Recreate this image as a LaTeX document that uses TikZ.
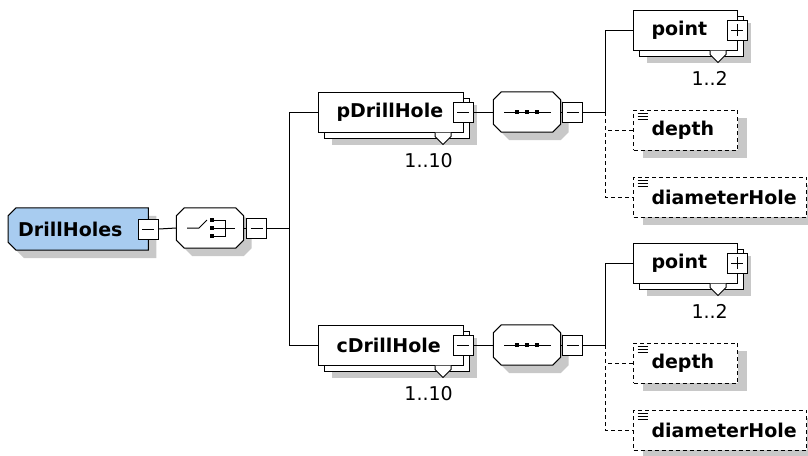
\documentclass[tikz,border=0pt]{standalone}
\usepackage{fontspec}
\setmainfont{DejaVu Sans}
\usetikzlibrary{shadows,backgrounds}
\definecolor{rootblue}{RGB}{168,204,240}
\definecolor{shadegray}{RGB}{200,200,200}
\tikzset{
  % Ulanish chiziqlari
  link/.style      = {line width=1pt, draw=black},
  optional/.style  = {dash pattern=on 4pt off 3pt},
  % Soyalar
  single/.style    = {general shadow={fill=shadegray, shadow xshift=9pt, shadow yshift=-8pt}},
  multi/.style     = {general shadow={fill=shadegray, shadow xshift=13pt, shadow yshift=-13pt},
                      copy shadow={draw, fill=white, line width=1pt, shadow xshift=6pt, shadow yshift=-6pt}},
  shade/.style     = {fill=shadegray, transform canvas={xshift=8pt, yshift=-8pt}},
  % Element qutilari
  elem/.style      = {draw, fill=white, line width=1pt, minimum height=40pt, inner xsep=18pt,
                      text width=#1, align=left, anchor=west,
                      font=\bfseries\fontsize{19}{20}\selectfont},
  rootbox/.style   = {minimum height=42pt, inner xsep=10pt, text width=120pt, align=left,
                      anchor=west, font=\bfseries\fontsize{19}{20}\selectfont},
  compositor/.style= {minimum width=67pt, minimum height=40pt, inner sep=0pt},
  % Kesilgan burchakli konturlar
  octa/.style      = {insert path={([xshift=8pt]#1.north west) -- ([xshift=-8pt]#1.north east)
                      -- ([yshift=-8pt]#1.north east) -- ([yshift=8pt]#1.south east)
                      -- ([xshift=-8pt]#1.south east) -- ([xshift=8pt]#1.south west)
                      -- ([yshift=8pt]#1.south west) -- ([yshift=-8pt]#1.north west) -- cycle}},
  halfocta/.style  = {insert path={([xshift=8pt]#1.north west) -- (#1.north east)
                      -- (#1.south east) -- ([xshift=8pt]#1.south west)
                      -- ([yshift=8pt]#1.south west) -- ([yshift=-8pt]#1.north west) -- cycle}},
  % Yig'ish / ochish belgilari
  sign/.style      = {draw, fill=white, line width=1pt, minimum size=20pt, inner sep=0pt},
  collapse/.style  = {sign, path picture={
                      \draw[line width=1pt] ([xshift=4pt]path picture bounding box.west)
                        -- ([xshift=-4pt]path picture bounding box.east);}},
  expand/.style    = {sign, path picture={
                      \draw[line width=1pt] ([xshift=4pt]path picture bounding box.west)
                        -- ([xshift=-4pt]path picture bounding box.east);
                      \draw[line width=1pt] ([yshift=4pt]path picture bounding box.south)
                        -- ([yshift=-4pt]path picture bounding box.north);}},
  % Ixtiyoriy element belgisi
  listicon/.style  = {path picture={
                      \foreach \dy in {3,6,9}
                        \draw[solid, line width=0.8pt] ([shift={(4,\dy)}]path picture bounding box.north west)
                          -- ++(10,0);}},
  notch/.style     = {draw, fill=white, line width=1pt},
  card/.style      = {font=\fontsize{19}{20}\selectfont, inner sep=0pt},
}
\begin{document}
\begin{tikzpicture}[x=1pt, y=-1pt]
  \useasboundingbox (0,0) rectangle (808,455);
  % Ildiz element
  \node[rootbox] (root) at (8,229) {DrillHoles};
  \node[collapse] (rootm) at (root.east) {};
  \node[compositor] (choice) at (210,228) {};
  \node[collapse] (choicem) at ([shift={(13,0)}]choice.east) {};
  \begin{scope}[on background layer]
    \fill[shade, halfocta=root];
    \filldraw[fill=rootblue, line width=1pt, halfocta=root];
    \fill[shade, octa=choice];
    \filldraw[fill=white, line width=1pt, octa=choice];
  \end{scope}
  \draw[link] (rootm.east) -- (choice.west);
  \draw[link] (choice.east) -- (choicem.west);
  % Tanlov belgisi
  \draw[link] ([shift={(-23,0)}]choice.center) -- ++(12,0) -- ++(8,-8);
  \foreach \sy in {-8,0,8}
    \fill ([shift={(2,\sy)}]choice.center) +(-2,-2) rectangle +(2,2);
  \draw[link] ([shift={(4,-8)}]choice.center) -- ++(11,0) -- ++(0,16) -- ++(-11,0);
  \draw[link] ([shift={(4,0)}]choice.center) -- ++(21,0);
  \coordinate (fork) at ([shift={(22,0)}]choicem.east);
  \draw[link] (choicem.east) -- (fork);
  % Ikki tarmoq
  \foreach \pre/\dy in {p/0,c/233} {
    \begin{scope}[shift={(0,\dy)}]
      \node[elem=109pt, multi] (\pre dh) at (318,112) {\pre DrillHole};
      \node[collapse] (\pre dhm) at ([shift={(-1,0)}]\pre dh.east) {};
      \draw[notch] ([shift={(-29,0)}]\pre dh.south east) -- ++(0,4) -- ++(8,8) -- ++(8,-8) -- ++(0,-4);
      \node[card, anchor=east] (\pre dhc) at ([shift={(-11,28)}]\pre dh.south east) {1..10};
      \draw[link] (fork) |- (\pre dh.west);
      % Ketma-ketlik
      \node[compositor] (\pre seq) at (527,112) {};
      \fill[shade, octa=\pre seq];
      \filldraw[fill=white, line width=1pt, octa=\pre seq];
      \node[collapse] (\pre seqm) at ([shift={(12,0)}]\pre seq.east) {};
      \draw[link] (\pre dhm.east) -- (\pre seq.west);
      \draw[link] (\pre seq.east) -- (\pre seqm.west);
      \draw[link] ([shift={(-23,0)}]\pre seq.center) -- ([shift={(24,0)}]\pre seq.center);
      \foreach \sx in {-10,0,10}
        \fill ([shift={(\sx,0)}]\pre seq.center) +(-2,-2) rectangle +(2,2);
      % Bola elementlar
      \node[elem=68pt, multi] (\pre pt) at (633,30) {point};
      \node[expand] (\pre ptm) at ([shift={(-1,0)}]\pre pt.east) {};
      \draw[notch] ([shift={(-28,0)}]\pre pt.south east) -- ++(0,4) -- ++(8,8) -- ++(8,-8) -- ++(0,-4);
      \node[card, anchor=east] (\pre ptc) at ([shift={(-10,28)}]\pre pt.south east) {1..2};
      \node[elem=68pt, single, optional, listicon] (\pre dp) at (633,130) {depth};
      \node[elem=137pt, single, optional, listicon] (\pre dm) at (633,197) {diameterHole};
      \coordinate (\pre fork) at ([shift={(22,0)}]\pre seqm.east);
      \draw[link] (\pre seqm.east) -- (\pre fork) |- (\pre pt.west);
      \draw[link, optional] (\pre fork) |- (\pre dp.west);
      \draw[link, optional] (\pre fork) |- (\pre dm.west);
    \end{scope}
  }
\end{tikzpicture}
\end{document}
